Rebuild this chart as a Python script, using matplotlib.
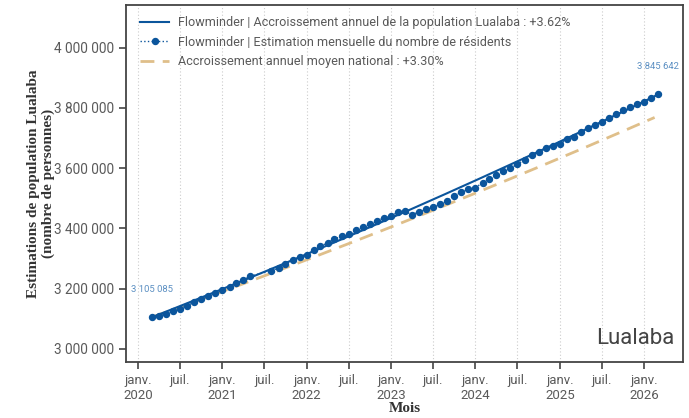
import matplotlib
matplotlib.use("Agg")
import matplotlib.pyplot as plt
import matplotlib.dates as mdates
from matplotlib.ticker import FuncFormatter
import numpy as np
import pandas as pd

# ---- data ----
months = (
    ["2020-%02d" % m for m in range(3, 13)]
    + ["2021-01", "2021-02", "2021-03", "2021-04", "2021-05",
       "2021-08", "2021-09", "2021-10", "2021-11", "2021-12"]
    + ["2022-%02d" % m for m in range(1, 13)]
    + ["2023-%02d" % m for m in range(1, 13)]
    + ["2024-%02d" % m for m in range(1, 13)]
    + ["2025-%02d" % m for m in range(1, 13)]
    + ["2026-01", "2026-02", "2026-03"]
)
population = [
    3105085, 3110400, 3117000, 3125000, 3133700, 3144000, 3154900, 3165800, 3176800, 3186700,
    3194700, 3205600, 3218900, 3229800, 3242100,
    3258700, 3269600, 3281900, 3295200, 3306100,
    3312800, 3328300, 3341600, 3351600, 3364800, 3373800, 3380400, 3394700, 3405600, 3413600, 3424500, 3435500,
    3441100, 3454400, 3457700, 3445400, 3455400, 3463300, 3470000, 3480900, 3491900, 3508500, 3520700, 3529700,
    3535000, 3551600, 3562800, 3577100, 3590400, 3599300, 3613600, 3626800, 3642400, 3653400, 3666600, 3674300,
    3679900, 3695500, 3704100, 3720700, 3732000, 3742900, 3753900, 3765200, 3778400, 3791700, 3803600, 3811600,
    3820200, 3832500, 3845642,
]
growth_lualaba = 0.0362
growth_national = 0.0330
trend_start = "2020-03-01"
trend_end = "2026-02-15"

tick_dates = ["2020-01", "2020-07", "2021-01", "2021-07", "2022-01", "2022-07",
              "2023-01", "2023-07", "2024-01", "2024-07", "2025-01", "2025-07", "2026-01"]
tick_labels = ["janv.\n2020", "juil.", "janv.\n2021", "juil.", "janv.\n2022", "juil.",
               "janv.\n2023", "juil.", "janv.\n2024", "juil.", "janv.\n2025", "juil.", "janv.\n2026"]
y_ticks = [3000000, 3200000, 3400000, 3600000, 3800000, 4000000]

# ---- plot ----
plt.rcParams['font.family'] = ['Roboto', 'DejaVu Sans']

dates = pd.to_datetime(months)
fig = plt.figure(figsize=(6.89, 4.18), dpi=100)
ax = fig.add_axes([0.183, 0.134, 0.808, 0.854])

blue = "#0b559c"
tan = "#dfbf8a"
textgrey = "#5a5a5a"

# trend lines (compound growth from first value)
td = pd.date_range(trend_start, trend_end, freq="7D")
yrs = (td - td[0]).days / 365.25
base = population[0]
ax.plot(td, base * (1 + growth_lualaba) ** yrs, color=blue, lw=1.5,
        label="Flowminder | Accroissement annuel de la population Lualaba : +3.62%", zorder=3)
ax.plot(dates, population, linestyle=":", lw=1.0, color=blue, marker="o", markersize=4.3,
        label="Flowminder | Estimation mensuelle du nombre de résidents", zorder=4)
ax.plot(td, base * (1 + growth_national) ** yrs, color=tan, lw=2.0, linestyle=(0, (5, 3)),
        label="Accroissement annuel moyen national : +3.30%", zorder=2)

ax.set_xlim(pd.Timestamp("2019-11-11"), pd.Timestamp("2026-06-17"))
ax.set_ylim(2956900, 4141000)

ax.set_xticks(pd.to_datetime(tick_dates))
ax.set_xticklabels(tick_labels)
ax.set_yticks(y_ticks)
ax.yaxis.set_major_formatter(FuncFormatter(lambda v, p: "{:,.0f}".format(v).replace(",", " ")))

ax.grid(axis="x", linestyle=(0, (1, 2)), color="#cccccc", lw=0.8)
ax.grid(axis="y", visible=False)

for s in ax.spines.values():
    s.set_color("#444444")
    s.set_linewidth(1.3)
ax.tick_params(axis="both", direction="out", length=5, width=1.2, color="#444444",
               labelcolor=textgrey, labelsize=9.8)
ax.tick_params(axis="x", labelsize=9.5)

ax.set_ylabel("Estimations de population Lualaba\n(nombre de personnes)",
              family="Liberation Serif", fontweight="bold", fontsize=11, color="#333333",
              linespacing=1.1)
ax.yaxis.set_label_coords(-0.128, 0.5)
ax.set_xlabel("Mois", family="Liberation Serif", fontweight="bold", fontsize=11,
              color="#333333", labelpad=0)

ax.annotate("3 105 085", (dates[0], population[0]), xytext=(0, 20), textcoords="offset points",
            ha="center", va="center", fontsize=6.8, color="#5b8fc2")
ax.annotate("3 845 642", (dates[-1], population[-1]), xytext=(0, 20), textcoords="offset points",
            ha="center", va="center", fontsize=6.8, color="#5b8fc2")

ax.text(0.985, 0.035, "Lualaba", transform=ax.transAxes, ha="right", va="bottom",
        fontsize=16, color="#444444")

leg = ax.legend(loc="upper left", frameon=False, fontsize=9.1, handlelength=2.3,
                borderaxespad=0.5, labelspacing=0.5, handletextpad=0.7,
                bbox_to_anchor=(0.005, 1.0))
for t in leg.get_texts():
    t.set_color(textgrey)

fig.savefig("out.png", dpi=100)
